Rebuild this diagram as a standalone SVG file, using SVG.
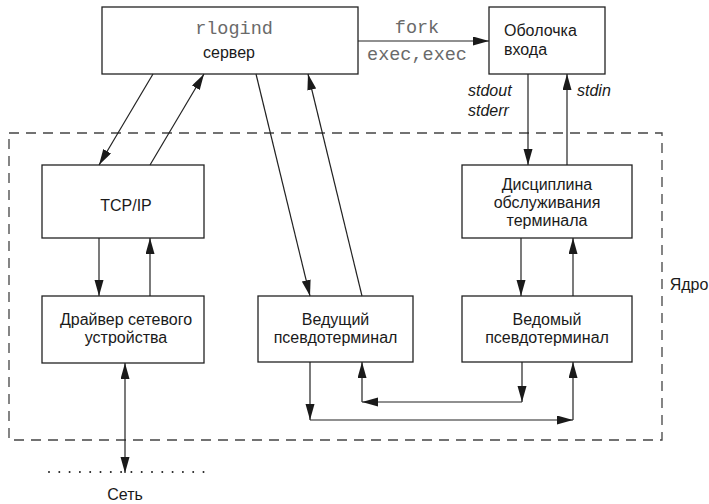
<svg xmlns="http://www.w3.org/2000/svg" width="709" height="504" viewBox="0 0 709 504">
<defs>
<marker id="ah" markerUnits="userSpaceOnUse" markerWidth="17" markerHeight="10" refX="16" refY="4.5" orient="auto-start-reverse">
<path d="M0,0 L16,4.5 L0,9 z" fill="#1a1a1a"/>
</marker>
</defs>
<style>
.box{fill:#fff;stroke:#222;stroke-width:1.3}
.t{font-family:"Liberation Sans",Arial,sans-serif;font-size:16px;fill:#1a1a1a;text-anchor:middle}
.m{font-family:"Liberation Mono","Courier New",monospace;font-size:18.5px;fill:#6a6a6a;text-anchor:middle}
.i{font-family:"Liberation Sans",Arial,sans-serif;font-size:16px;font-style:italic;fill:#1a1a1a}
.c{fill:none;stroke:#222;stroke-width:1.2}
.a{marker-end:url(#ah)}
</style>
<rect x="9" y="133" width="653" height="307" fill="none" stroke="#444" stroke-width="1.3" stroke-dasharray="10,7"/>
<text class="t" x="689" y="290">Ядро</text>

<g id="rlogind">
<rect class="box" x="102" y="7" width="256" height="67"/>
<text class="m" x="234" y="34">rlogind</text>
<text class="t" x="229" y="58">сервер</text>
</g>
<g id="shell">
<rect class="box" x="489" y="7" width="116" height="67"/>
<text class="t" x="504" y="36" style="text-anchor:start">Оболочка</text>
<text class="t" x="504" y="55" style="text-anchor:start">входа</text>
</g>
<g id="tcpip">
<rect class="box" x="42" y="165" width="162" height="73"/>
<text class="t" x="126" y="211">TCP/IP</text>
</g>
<g id="driver">
<rect class="box" x="42" y="296" width="162" height="67"/>
<text class="t" x="126" y="325">Драйвер сетевого</text>
<text class="t" x="126" y="343">устройства</text>
</g>
<g id="master">
<rect class="box" x="258" y="296" width="155" height="66"/>
<text class="t" x="335.5" y="325">Ведущий</text>
<text class="t" x="335.5" y="343">псевдотерминал</text>
</g>
<g id="slave">
<rect class="box" x="462" y="296" width="170" height="66"/>
<text class="t" x="547" y="325">Ведомый</text>
<text class="t" x="547" y="343">псевдотерминал</text>
</g>
<g id="discipline">
<rect class="box" x="462" y="165" width="170" height="73"/>
<text class="t" x="547" y="190">Дисциплина</text>
<text class="t" x="547" y="208">обслуживания</text>
<text class="t" x="547" y="226">терминала</text>
</g>
<g id="network">
<line x1="49" y1="472" x2="204" y2="472" stroke="#222" stroke-width="2" stroke-linecap="round" stroke-dasharray="0,10.3"/>
<text class="t" x="125" y="500">Сеть</text>
</g>

<g id="connectors">
<line class="c a" x1="358" y1="41" x2="489" y2="41"/>
<text class="m" x="417" y="33">fork</text>
<text class="m" x="417" y="60">exec,exec</text>
<text class="i" x="468" y="96">stdout</text>
<text class="i" x="468" y="116">stderr</text>
<text class="i" x="577" y="96">stdin</text>

<line class="c a" x1="153" y1="74" x2="99" y2="165"/>
<line class="c a" x1="150" y1="165" x2="204" y2="74"/>
<line class="c a" x1="256" y1="74" x2="310" y2="296"/>
<line class="c a" x1="362" y1="296" x2="308" y2="74"/>

<line class="c a" x1="528" y1="74" x2="528" y2="165"/>
<line class="c a" x1="567" y1="165" x2="567" y2="74"/>

<line class="c a" x1="99" y1="238" x2="99" y2="296"/>
<line class="c a" x1="150" y1="296" x2="150" y2="238"/>

<line class="c a" x1="521" y1="238" x2="521" y2="296"/>
<line class="c a" x1="573" y1="296" x2="573" y2="238"/>

<line class="c a" x1="125" y1="363" x2="125" y2="473" style="marker-start:url(#ah)"/>

<line class="c a" x1="310" y1="362" x2="310" y2="420"/>
<line class="c a" x1="310" y1="420" x2="573" y2="420"/>
<line class="c a" x1="573" y1="420" x2="573" y2="362"/>

<line class="c a" x1="522" y1="362" x2="522" y2="402"/>
<line class="c a" x1="522" y1="402" x2="362" y2="402"/>
<line class="c a" x1="362" y1="402" x2="362" y2="362"/>
</g>
</svg>
